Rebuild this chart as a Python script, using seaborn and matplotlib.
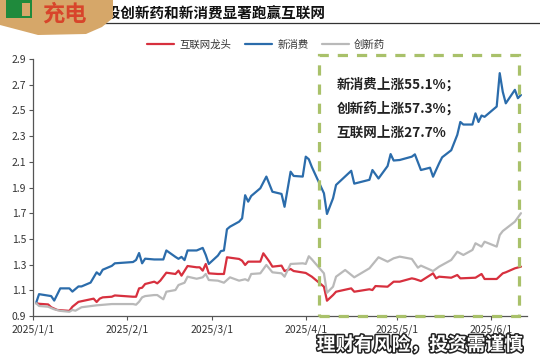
import matplotlib
matplotlib.use("Agg")
import matplotlib.pyplot as plt
import matplotlib.patheffects as pe
from matplotlib.patches import Polygon, Rectangle
import pandas as pd
import seaborn as sns

# ---------------- data ----------------
blue_dates = ["2025-01-02","2025-01-03","2025-01-07","2025-01-08","2025-01-10","2025-01-13","2025-01-14",
              "2025-01-16","2025-01-17","2025-01-20","2025-01-22","2025-01-23","2025-01-24","2025-01-27",
              "2025-01-28","2025-02-03","2025-02-04","2025-02-05","2025-02-06","2025-02-07","2025-02-10",
              "2025-02-13","2025-02-14","2025-02-17","2025-02-18","2025-02-19","2025-02-20","2025-02-21",
              "2025-02-24","2025-02-26","2025-02-27","2025-02-28","2025-03-03","2025-03-04","2025-03-05",
              "2025-03-06","2025-03-07","2025-03-10","2025-03-11","2025-03-12","2025-03-13","2025-03-14",
              "2025-03-17","2025-03-19","2025-03-21","2025-03-24","2025-03-25","2025-03-27","2025-03-28",
              "2025-03-31","2025-04-01","2025-04-02","2025-04-03","2025-04-07","2025-04-08","2025-04-10",
              "2025-04-11","2025-04-16","2025-04-17","2025-04-22","2025-04-23","2025-04-25","2025-04-28",
              "2025-04-29","2025-04-30","2025-05-02","2025-05-06","2025-05-07","2025-05-09","2025-05-12",
              "2025-05-13","2025-05-15","2025-05-16","2025-05-19","2025-05-21","2025-05-22","2025-05-23",
              "2025-05-26","2025-05-27","2025-05-28","2025-05-29","2025-05-30","2025-06-03","2025-06-04",
              "2025-06-05","2025-06-06","2025-06-09","2025-06-10","2025-06-11"]
blue_vals = [1.00,1.07,1.055,1.02,1.115,1.115,1.09,
             1.13,1.13,1.16,1.24,1.22,1.26,1.29,
             1.31,1.32,1.336,1.39,1.31,1.346,1.34,
             1.34,1.41,1.36,1.345,1.36,1.335,1.41,
             1.41,1.43,1.375,1.305,1.37,1.405,1.41,
             1.575,1.595,1.634,1.66,1.84,1.79,1.834,
             1.894,1.985,1.867,1.85,1.75,2.023,1.99,
             1.985,2.14,2.12,2.06,1.855,1.694,1.816,
             1.92,2.03,1.93,1.96,2.036,1.97,2.067,
             2.16,2.11,2.114,2.14,2.158,2.036,2.054,
             1.984,2.088,2.135,2.19,2.31,2.41,2.39,
             2.39,2.477,2.41,2.46,2.45,2.53,2.79,
             2.645,2.555,2.66,2.595,2.62]

red_dates = ["2025-01-02","2025-01-03","2025-01-06","2025-01-07","2025-01-09","2025-01-10","2025-01-13",
             "2025-01-14","2025-01-16","2025-01-21","2025-01-22","2025-01-23","2025-01-24","2025-01-27",
             "2025-01-28","2025-02-03","2025-02-04","2025-02-05","2025-02-06","2025-02-07","2025-02-10",
             "2025-02-11","2025-02-12","2025-02-13","2025-02-14","2025-02-17","2025-02-18","2025-02-19",
             "2025-02-21","2025-02-24","2025-02-25","2025-02-26","2025-02-27","2025-02-28","2025-03-03",
             "2025-03-05","2025-03-06","2025-03-10","2025-03-11","2025-03-12","2025-03-13","2025-03-17",
             "2025-03-18","2025-03-20","2025-03-21","2025-03-24","2025-03-25","2025-03-27","2025-03-28",
             "2025-04-01","2025-04-03","2025-04-07","2025-04-08","2025-04-10","2025-04-11","2025-04-16",
             "2025-04-17","2025-04-22","2025-04-23","2025-04-24","2025-04-28","2025-04-30","2025-05-02",
             "2025-05-06","2025-05-07","2025-05-09","2025-05-13","2025-05-14","2025-05-15","2025-05-19",
             "2025-05-21","2025-05-22","2025-05-27","2025-05-29","2025-05-30","2025-06-03","2025-06-05",
             "2025-06-06","2025-06-09","2025-06-11"]
red_vals = [1.00,0.995,0.99,0.968,0.947,0.945,0.94,
            0.972,1.01,1.035,1.009,1.035,1.045,1.05,
            1.06,1.05,1.05,1.115,1.12,1.149,1.167,
            1.154,1.175,1.206,1.237,1.227,1.253,1.214,
            1.289,1.279,1.279,1.253,1.305,1.232,1.227,
            1.227,1.357,1.344,1.33,1.297,1.323,1.323,
            1.388,1.323,1.284,1.292,1.25,1.266,1.25,
            1.235,1.206,1.128,1.019,1.063,1.089,1.115,
            1.089,1.108,1.102,1.133,1.128,1.167,1.167,
            1.193,1.188,1.172,1.232,1.193,1.206,1.198,
            1.219,1.193,1.198,1.227,1.188,1.188,1.232,
            1.24,1.271,1.284]

gray_dates = ["2025-01-02","2025-01-03","2025-01-06","2025-01-08","2025-01-10","2025-01-13","2025-01-14",
              "2025-01-15","2025-01-17","2025-01-22","2025-01-27","2025-02-03","2025-02-04","2025-02-05",
              "2025-02-06","2025-02-07","2025-02-10","2025-02-11","2025-02-13","2025-02-14","2025-02-17",
              "2025-02-18","2025-02-20","2025-02-21","2025-02-24","2025-02-26","2025-02-27","2025-02-28",
              "2025-03-03","2025-03-05","2025-03-07","2025-03-10","2025-03-12","2025-03-13","2025-03-14",
              "2025-03-17","2025-03-19","2025-03-21","2025-03-24","2025-03-25","2025-03-27","2025-03-31",
              "2025-04-01","2025-04-02","2025-04-03","2025-04-07","2025-04-08","2025-04-10","2025-04-11",
              "2025-04-14","2025-04-17","2025-04-22","2025-04-25","2025-04-28","2025-04-30","2025-05-02",
              "2025-05-06","2025-05-08","2025-05-09","2025-05-13","2025-05-15","2025-05-19","2025-05-21",
              "2025-05-23","2025-05-26","2025-05-27","2025-05-29","2025-05-30","2025-06-03","2025-06-04",
              "2025-06-05","2025-06-09","2025-06-11"]
gray_vals = [1.00,0.978,0.972,0.952,0.94,0.933,0.947,
             0.941,0.968,0.983,0.993,0.993,0.988,1.011,
             1.045,1.055,1.063,1.063,1.03,1.089,1.102,
             1.141,1.159,1.206,1.19,1.201,1.227,1.18,
             1.175,1.159,1.201,1.175,1.186,1.175,1.227,
             1.232,1.297,1.24,1.232,1.206,1.305,1.31,
             1.305,1.365,1.341,1.232,1.081,1.128,1.206,
             1.258,1.201,1.271,1.357,1.323,1.349,1.362,
             1.344,1.276,1.292,1.25,1.284,1.336,1.40,
             1.375,1.414,1.466,1.44,1.478,1.44,1.53,
             1.561,1.634,1.70]

series_names = ["互联网龙头", "新消费", "创新药"]
series_colors = ["#d7303e", "#2b6cab", "#b9b9b9"]
month_ticks = ["2025-01-01","2025-02-01","2025-03-01","2025-04-01","2025-05-01","2025-06-01"]
month_labels = ["2025/1/1","2025/2/1","2025/3/1","2025/4/1","2025/5/1","2025/6/1"]
y_ticks = [0.9,1.1,1.3,1.5,1.7,1.9,2.1,2.3,2.5,2.7,2.9]
highlight_start, highlight_end = "2025-04-05 07:00", "2025-06-10 07:00"
notes = ["新消费上涨55.1%；", "创新药上涨57.3%；", "互联网上涨27.7%"]
title = "港股创新药和新消费显著跑赢互联网"
footer = "理财有风险，投资需谨慎"

# ---------------- plot ----------------
sns.set_style("ticks")
plt.rcParams["font.family"] = ["Noto Sans CJK SC", "DejaVu Sans"]

fig = plt.figure(figsize=(5.4, 3.55), dpi=100)
ax = fig.add_axes([33/540, 39/355, 494/540, 257/355])

frames = []
for name, d, v in [(series_names[0], red_dates, red_vals),
                   (series_names[1], blue_dates, blue_vals),
                   (series_names[2], gray_dates, gray_vals)]:
    frames.append(pd.DataFrame({"date": pd.to_datetime(d), "value": v, "series": name}))
df = pd.concat(frames, ignore_index=True)

sns.lineplot(data=df, x="date", y="value", hue="series", hue_order=series_names,
             palette=series_colors, linewidth=1.6, ax=ax, legend=False, zorder=3)

ax.set_xlim(pd.Timestamp("2025-01-01"), pd.Timestamp("2025-06-13"))
ax.set_ylim(0.9, 2.9)
ax.set_xticks(pd.to_datetime(month_ticks))
ax.set_xticklabels(month_labels)
ax.set_yticks(y_ticks)
ax.set_yticklabels([f"{t:.1f}" for t in y_ticks])
ax.set_xlabel("")
ax.set_ylabel("")
for s in ["top", "right"]:
    ax.spines[s].set_visible(False)
for s in ["left", "bottom"]:
    ax.spines[s].set_color("#555555")
    ax.spines[s].set_linewidth(0.9)
ax.tick_params(axis="both", labelsize=7.5, colors="#555555", labelcolor="#333333",
               length=3, width=0.8, direction="out", pad=2)
ax.tick_params(axis="x", pad=3)
ax.grid(False)

# highlight dashed box
x0 = matplotlib.dates.date2num(pd.Timestamp(highlight_start))
x1 = matplotlib.dates.date2num(pd.Timestamp(highlight_end))
rect = Rectangle((x0, 0.9), x1 - x0, 2.028, fill=False, edgecolor="#a9c16a",
                 linewidth=2.3, linestyle=(0, (3.2, 2.8)), clip_on=False, zorder=4)
ax.add_patch(rect)

for i, t in enumerate(notes):
    ax.text(0.615, 0.90 - i * 0.093, t, transform=ax.transAxes, fontsize=9.8,
            fontweight="bold", color="#222222", va="center", ha="left")

# legend
handles = [plt.Line2D([], [], color=c, linewidth=1.6) for c in series_colors]
fig.legend(handles, series_names, loc="center", bbox_to_anchor=(0.493, 1 - 45/355),
           ncol=3, frameon=False, fontsize=7.5, handlelength=2.6, columnspacing=1.3,
           handletextpad=0.5, labelcolor="#333333")

# title & rule
fig.text(92/540, 1 - 14/355, title, fontsize=10.5, fontweight="bold", color="#111111",
         va="center", ha="left")
fig.add_artist(plt.Line2D([95/540, 1.0], [1 - 23/355, 1 - 23/355], color="#333333",
                          linewidth=0.9, transform=fig.transFigure))

# badge / logo
pts = [(0, 0), (113, 0), (113, 18), (102, 27), (86, 34), (38, 35), (0, 25)]
badge = Polygon([(x/540, 1 - y/355) for x, y in pts], closed=True, transform=fig.transFigure,
                facecolor="#d6a769", edgecolor="none", zorder=10)
fig.add_artist(badge)
fig.add_artist(Rectangle((6/540, 1 - 18/355), 26/540, 18/355, transform=fig.transFigure,
                         facecolor="#1f8a3c", edgecolor="none", zorder=11))
fig.add_artist(Rectangle((22/540, 1 - 16/355), 8/540, 13/355, transform=fig.transFigure,
                         facecolor="#d6a769", edgecolor="none", zorder=12))
fig.text(42/540, 1 - 14/355, "充电", fontsize=16, fontweight="bold", color="#d8452b",
         va="center", ha="left", zorder=13)

# footer watermark
fig.text(523/540, 10/355, footer, fontsize=13.5, fontweight="bold", color="white", ha="right",
         va="center", path_effects=[pe.withStroke(linewidth=2.2, foreground="#222222")])

fig.savefig("out.png", dpi=100)
